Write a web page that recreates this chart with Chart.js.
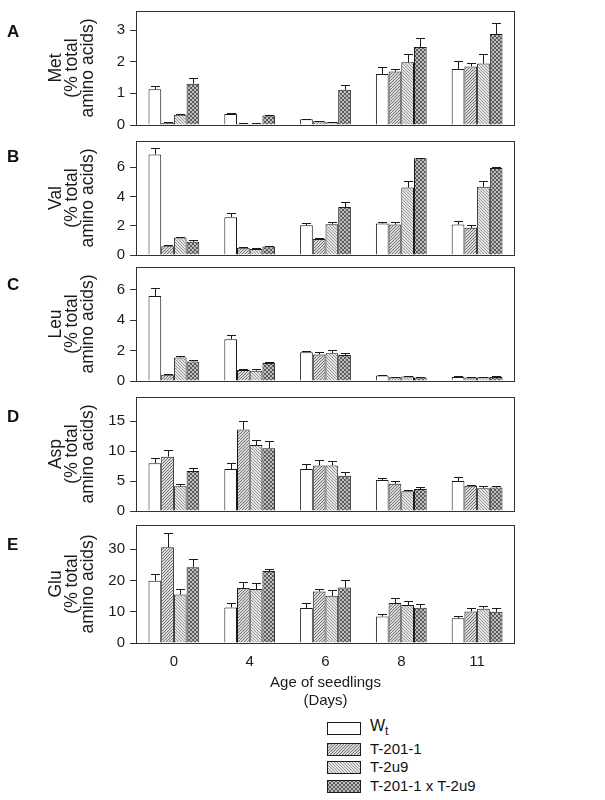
<!DOCTYPE html>
<html>
<head>
<meta charset="utf-8">
<script src="https://cdn.jsdelivr.net/npm/chart.js@4.4.1/dist/chart.umd.min.js"></script>
<style>
  html, body { margin: 0; padding: 0; background: #fff; }
  body { width: 605px; height: 800px; position: relative; overflow: hidden;
         font-family: "Liberation Sans", Arial, Helvetica, sans-serif; color: #111; }
  canvas.pc { position: absolute; left: 0; }
  .letter { position: absolute; left: 7px; font-weight: bold; font-size: 17px; line-height: 17px; }
  .sw { position: absolute; left: 327px; }
  .lt { position: absolute; left: 370px; font-size: 15px; line-height: 16px; white-space: nowrap; }
  .lt sub { font-size: 12px; vertical-align: -4px; line-height: 0; }
</style>
</head>
<body>
<script>
// ---------- DATA ----------
const days = ['0', '4', '6', '8', '11'];
const seriesNames = ['Wt', 'T-201-1', 'T-2u9', 'T-201-1 x T-2u9'];

// order of inner arrays: Wt, T-201-1, T-2u9, T-201-1 x T-2u9
const metValues = [[1.13, 0.35, 0.18, 1.61, 1.77], [0.07, 0.04, 0.12, 1.69, 1.85], [0.32, 0.04, 0.09, 1.98, 1.94], [1.30, 0.30, 1.11, 2.46, 2.87]];
const metErrors = [[0.10, 0.04, 0.02, 0.21, 0.24], [0.01, 0.01, 0.01, 0.09, 0.11], [0.03, 0.01, 0.01, 0.25, 0.29], [0.17, 0.03, 0.15, 0.28, 0.36]];

const valValues = [[6.88, 2.59, 2.04, 2.16, 2.08], [0.60, 0.49, 1.09, 2.08, 1.86], [1.20, 0.41, 2.10, 4.61, 4.67], [0.90, 0.58, 3.28, 6.62, 5.96]];
const valErrors = [[0.47, 0.30, 0.12, 0.09, 0.28], [0.11, 0.05, 0.09, 0.17, 0.18], [0.06, 0.04, 0.17, 0.47, 0.39], [0.13, 0.06, 0.38, 0.04, 0.03]];

const leuValues = [[5.59, 2.75, 1.89, 0.37, 0.27], [0.41, 0.72, 1.75, 0.25, 0.23], [1.54, 0.68, 1.83, 0.29, 0.25], [1.29, 1.19, 1.71, 0.23, 0.27]];
const leuErrors = [[0.51, 0.27, 0.06, 0.04, 0.03], [0.02, 0.06, 0.14, 0.02, 0.02], [0.10, 0.12, 0.18, 0.03, 0.02], [0.11, 0.08, 0.16, 0.02, 0.06]];

const aspValues = [[7.97, 6.98, 6.98, 5.16, 5.00], [9.06, 13.6, 7.60, 4.53, 4.22], [4.11, 10.99, 7.60, 3.28, 3.80], [6.67, 10.47, 5.89, 3.65, 3.91]];
const aspErrors = [[0.83, 0.99, 0.83, 0.26, 0.63], [1.10, 1.35, 0.84, 0.42, 0.05], [0.47, 0.83, 0.73, 0.26, 0.37], [0.47, 1.14, 0.62, 0.41, 0.26]];

const gluValues = [[19.96, 11.4, 11.2, 8.5, 7.9], [30.7, 17.6, 16.5, 12.8, 10.1], [15.5, 17.3, 15.1, 12.2, 11.0], [24.3, 23.06, 17.8, 11.3, 10.0]];
const gluErrors = [[2.3, 1.4, 1.5, 0.7, 0.9], [4.5, 1.8, 0.7, 1.6, 1.2], [1.7, 2.0, 1.8, 1.1, 0.9], [2.5, 0.7, 2.5, 1.2, 1.3]];

const panelLetters = ['A', 'B', 'C', 'D', 'E'];
const aminoNames = ['Met', 'Val', 'Leu', 'Asp', 'Glu'];
const yMaxes = [3.6, 7.8, 7.5, 19, 37.8];
const yStepSizes = [1, 2, 2, 5, 10];
const xAxisTitle = ['Age of seedlings', '(Days)'];
const yTitleRest = ['(% total', 'amino acids)'];

// ---------- layout (pixels) ----------
const plotLeft = 136, plotRight = 515;
const plotTops = [7, 137, 263, 393, 521];
const plotBottoms = [129, 259, 385, 515, 643];
const letterTops = [23, 148, 276, 408, 536];

const FONT = '"Liberation Sans", Arial, Helvetica, sans-serif';
const INK = '#1a1a1a';

// ---------- fill patterns ----------
function makePattern(kind) {
  const c = document.createElement('canvas');
  const g = c.getContext('2d');
  if (kind === 'white') {
    c.width = 2; c.height = 2; g.fillStyle = '#ffffff'; g.fillRect(0, 0, 2, 2);
  } else if (kind === 'fwd' || kind === 'back') {
    c.width = 3; c.height = 3;
    g.fillStyle = kind === 'fwd' ? '#dadada' : '#e4e4e4';
    g.fillRect(0, 0, 3, 3);
    g.fillStyle = kind === 'fwd' ? '#767676' : '#9a9a9a';
    for (let i = 0; i < 3; i++) {
      if (kind === 'fwd') g.fillRect(i, 2 - i, 1, 1);
      else g.fillRect(i, i, 1, 1);
    }
  } else {
    c.width = 4; c.height = 4;
    g.fillStyle = '#bdbdbd'; g.fillRect(0, 0, 4, 4);
    g.fillStyle = '#5c5c5c';
    g.fillRect(0, 0, 2, 2); g.fillRect(2, 2, 2, 2);
  }
  const ctx = document.createElement('canvas').getContext('2d');
  return ctx.createPattern(c, 'repeat');
}
const patternKinds = ['white', 'fwd', 'back', 'check'];

// ---------- plugins ----------
const errorBarPlugin = {
  id: 'errorBars',
  afterDatasetsDraw(chart) {
    const ctx = chart.ctx, ys = chart.scales.y;
    ctx.save();
    ctx.strokeStyle = INK; ctx.lineWidth = 1;
    chart.data.datasets.forEach((ds, i) => {
      const meta = chart.getDatasetMeta(i);
      meta.data.forEach((bar, j) => {
        const e = ds.errors[j];
        if (!e) return;
        const yTop = Math.round(ys.getPixelForValue(ds.data[j] + e)) + 0.5;
        const x = Math.round(bar.x) + 0.5;
        ctx.beginPath();
        ctx.moveTo(x, bar.y); ctx.lineTo(x, yTop);
        ctx.moveTo(x - 4.5, yTop); ctx.lineTo(x + 4.5, yTop);
        ctx.stroke();
      });
    });
    ctx.restore();
  }
};
const framePlugin = {
  id: 'frame',
  afterDraw(chart) {
    const a = chart.chartArea, ctx = chart.ctx;
    ctx.save();
    ctx.strokeStyle = '#333'; ctx.lineWidth = 1;
    ctx.strokeRect(Math.round(a.left) + 0.5, Math.round(a.top) + 0.5,
                   Math.round(a.right - a.left) - 1, Math.round(a.bottom - a.top));
    ctx.restore();
  }
};

// ---------- build panels ----------
const allValues = [metValues, valValues, leuValues, aspValues, gluValues];
const allErrors = [metErrors, valErrors, leuErrors, aspErrors, gluErrors];

for (let p = 0; p < 5; p++) {
  const isLast = p === 4;
  const padTop = 10, padBottom = isLast ? 0 : 10;
  const canvasTop = plotTops[p] - padTop;
  const xAxisHeight = 68;
  const canvasHeight = isLast ? (plotBottoms[p] - plotTops[p]) + padTop + xAxisHeight
                              : (plotBottoms[p] - plotTops[p]) + padTop + padBottom;
  const cv = document.createElement('canvas');
  cv.className = 'pc';
  cv.width = 605; cv.height = canvasHeight;
  cv.style.top = canvasTop + 'px';
  cv.style.width = '605px'; cv.style.height = canvasHeight + 'px';
  document.body.appendChild(cv);

  const letter = document.createElement('div');
  letter.className = 'letter';
  letter.style.top = letterTops[p] + 'px';
  letter.textContent = panelLetters[p];
  document.body.appendChild(letter);

  const datasets = seriesNames.map((name, s) => ({
    label: name,
    data: allValues[p][s],
    errors: allErrors[p][s],
    backgroundColor: makePattern(patternKinds[s]),
    borderColor: INK,
    borderWidth: 1,
    borderSkipped: 'bottom',
    categoryPercentage: 0.67,
    barPercentage: 1.0
  }));

  new Chart(cv, {
    type: 'bar',
    data: { labels: days, datasets },
    plugins: [errorBarPlugin, framePlugin],
    options: {
      responsive: false,
      animation: false,
      devicePixelRatio: 1,
      layout: { padding: { top: padTop, bottom: padBottom, left: 0, right: 605 - plotRight } },
      plugins: { legend: { display: false }, tooltip: { enabled: false } },
      scales: {
        x: {
          display: isLast,
          grid: { display: false, drawTicks: false },
          border: { display: false },
          ticks: { color: INK, font: { family: FONT, size: 15 }, padding: 10, maxRotation: 0 },
          title: {
            display: isLast, text: xAxisTitle, color: INK,
            font: { family: FONT, size: 15, lineHeight: '18px' },
            padding: { top: 0, bottom: 1 }
          },
          afterFit(scale) { if (isLast) scale.height = xAxisHeight; }
        },
        y: {
          min: 0, max: yMaxes[p],
          grid: { drawOnChartArea: false, drawTicks: true, tickLength: 6, color: '#333' },
          border: { display: true, color: '#333' },
          ticks: { stepSize: yStepSizes[p], includeBounds: false, color: INK,
                   font: { family: FONT, size: 15 }, padding: 5 },
          title: {
            display: true, text: [aminoNames[p]].concat(yTitleRest), color: INK,
            font: { family: FONT, size: 17.5, lineHeight: '16px' },
            padding: { top: 48, bottom: 0 }
          },
          afterFit(scale) { scale.width = plotLeft; }
        }
      }
    }
  });
}

// ---------- legend ----------
const legendBoxTops = [722, 743, 761, 780];
seriesNames.forEach((name, s) => {
  const sw = document.createElement('canvas');
  sw.className = 'sw'; sw.width = 34; sw.height = 13;
  sw.style.top = legendBoxTops[s] + 'px';
  document.body.appendChild(sw);
  const g = sw.getContext('2d');
  g.fillStyle = makePattern(patternKinds[s]); g.fillRect(0, 0, 34, 13);
  g.strokeStyle = INK; g.lineWidth = 1; g.strokeRect(0.5, 0.5, 33, 12);

  const t = document.createElement('div');
  t.className = 'lt';
  t.style.top = (legendBoxTops[s] - 2) + 'px';
  if (s === 0) { t.innerHTML = 'W<sub>t</sub>'; t.style.top = (legendBoxTops[s] - 4) + 'px'; t.style.fontSize = '16px'; }
  else t.textContent = name;
  document.body.appendChild(t);
});
</script>
</body>
</html>
